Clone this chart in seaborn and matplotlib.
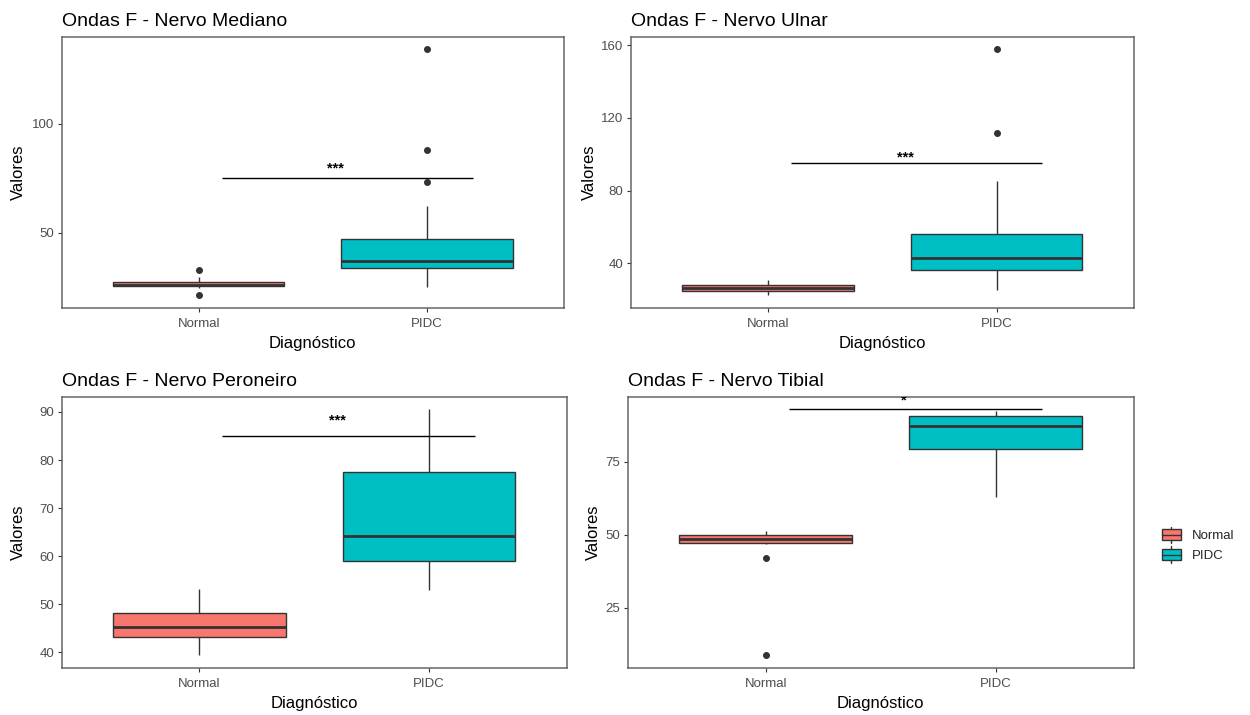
import numpy as np
import pandas as pd
import matplotlib
matplotlib.use("Agg")
import matplotlib.pyplot as plt
import seaborn as sns
from matplotlib.patches import Rectangle
from matplotlib.lines import Line2D
from matplotlib.legend_handler import HandlerBase

# ---------------- data ----------------
groups = ["Normal", "PIDC"]
group_colors = ["#F8766D", "#00BFC4"]

mediano_normal = [21.1, 24.3, 25.3, 25.7, 26.1, 26.8, 27.3, 29.6, 32.7]
mediano_pidc = [24.8, 29.5, 31.0, 32.6, 33.8, 34.5, 35.2, 36.0, 36.8, 39.5,
                42.0, 44.3, 46.8, 62.2, 73.2, 87.9, 134.4]

ulnar_normal = [22.4, 23.9, 24.8, 25.5, 26.3, 27.2, 28.1, 29.5, 30.9]
ulnar_pidc = [25.4, 29.0, 32.0, 34.5, 36.5, 38.0, 39.6, 41.2, 42.7, 45.0,
              48.5, 52.0, 56.3, 68.0, 85.5, 111.4, 157.8]

peroneiro_normal = [39.4, 41.5, 43.3, 44.4, 45.3, 46.9, 48.2, 50.6, 53.1]
peroneiro_pidc = [52.9, 56.0, 59.0, 61.5, 64.2, 70.8, 77.5, 84.0, 90.6]

tibial_normal = [8.6, 41.9, 46.8, 47.2, 47.6, 48.0, 48.4, 48.9, 49.4, 49.9,
                 50.4, 50.9, 51.3]
tibial_pidc = [63.0, 74.5, 79.2, 84.5, 87.3, 89.0, 90.5, 91.4, 92.2]

titles = ["Ondas F - Nervo Mediano", "Ondas F - Nervo Ulnar",
          "Ondas F - Nervo Peroneiro", "Ondas F - Nervo Tibial"]
yticks_list = [[50, 100], [40, 80, 120, 160], [40, 50, 60, 70, 80, 90], [25, 50, 75]]
sig_labels = ["***", "***", "***", "*"]
sig_bar_y = [75, 95, 85, 93]
sig_text_y = [80.1, 99.2, 88.5, 96.3]

data_pairs = [(mediano_normal, mediano_pidc), (ulnar_normal, ulnar_pidc),
              (peroneiro_normal, peroneiro_pidc), (tibial_normal, tibial_pidc)]

# ---------------- layout (pixels) ----------------
W, H = 1250, 715
panel_px = [  # left, top, right, bottom
    (61.7, 36.7, 564.0, 307.7),
    (631.0, 36.7, 1133.7, 307.7),
    (61.7, 396.7, 566.7, 667.7),
    (627.7, 396.7, 1133.7, 667.7),
]
ylabel_center_px = [18.7, 589.5, 18.7, 593.0]

sns.set_theme(style="white")
plt.rcParams["font.family"] = ["Liberation Sans", "DejaVu Sans"]

fig = plt.figure(figsize=(W / 100, H / 100), dpi=100)
fig.patch.set_facecolor("white")

for i in range(4):
    l, t, r, b = panel_px[i]
    ax = fig.add_axes([l / W, 1 - b / H, (r - l) / W, (b - t) / H])
    normal_vals, pidc_vals = data_pairs[i]
    df = pd.DataFrame({
        "Diagnóstico": ["Normal"] * len(normal_vals) + ["PIDC"] * len(pidc_vals),
        "Valores": list(normal_vals) + list(pidc_vals),
    })
    sns.boxplot(data=df, x="Diagnóstico", y="Valores", hue="Diagnóstico",
                order=groups, hue_order=groups, palette=group_colors,
                saturation=1, width=0.75, linecolor="#333333", linewidth=1.0,
                showcaps=False, whis=1.5, fliersize=4.0, legend=False,
                flierprops=dict(marker="o", markerfacecolor="#333333",
                                markeredgecolor="#333333"),
                medianprops=dict(linewidth=2.0, color="#333333"),
                ax=ax)
    allv = np.array(list(normal_vals) + list(pidc_vals))
    lo, hi = allv.min(), max(allv.max(), sig_bar_y[i])
    pad = 0.05 * (hi - lo)
    ax.set_ylim(lo - pad, hi + pad)
    ax.set_xlim(-0.6, 1.6)
    ax.set_yticks(yticks_list[i])
    # significance annotation
    ax.plot([0.1, 1.2], [sig_bar_y[i], sig_bar_y[i]], color="black", lw=1.0,
            solid_capstyle="butt")
    ax.annotate(sig_labels[i], xy=(0.6, sig_text_y[i]), xytext=(0, -1.0),
                textcoords="offset points", ha="center", va="center",
                fontsize=10.5, fontweight="bold", color="black",
                annotation_clip=False, clip_on=True)

    ax.set_title(titles[i], loc="left", fontsize=14, color="black", pad=8)
    ax.set_xlabel("Diagnóstico", fontsize=12, color="black", labelpad=4)
    ax.set_ylabel("Valores", fontsize=12, color="black")
    ax.yaxis.label.set_verticalalignment("center")
    ax.yaxis.set_label_coords((ylabel_center_px[i] - l) / (r - l), 0.5)
    ax.tick_params(axis="x", pad=4.5)
    ax.tick_params(axis="y", pad=2.5)
    ax.tick_params(axis="both", which="both", length=2.9, width=0.8,
                   color="#333333", labelcolor="#4D4D4D", labelsize=9.5,
                   left=True, bottom=True)
    for s in ax.spines.values():
        s.set_visible(True)
        s.set_color("#666666")
        s.set_linewidth(1.1)
    ax.grid(False)
    ax.set_facecolor("white")


# ---------------- legend ----------------
class BoxKeyHandler(HandlerBase):
    def __init__(self, color):
        super().__init__()
        self.color = color

    def create_artists(self, legend, orig_handle, xdescent, ydescent, width,
                       height, fontsize, trans):
        x0, y0 = -xdescent, -ydescent
        cx = x0 + width / 2
        rect = Rectangle((x0, y0 + 0.16 * height), width, 0.68 * height,
                         facecolor=self.color, edgecolor="#333333", lw=1.0,
                         transform=trans)
        med = Line2D([x0, x0 + width], [y0 + 0.5 * height] * 2,
                     color="#333333", lw=1.0, transform=trans)
        w1 = Line2D([cx, cx], [y0, y0 + 0.16 * height], color="#333333",
                    lw=1.0, transform=trans)
        w2 = Line2D([cx, cx], [y0 + 0.84 * height, y0 + height],
                    color="#333333", lw=1.0, transform=trans)
        return [rect, med, w1, w2]


handles = [Rectangle((0, 0), 1, 1) for _ in groups]
handler_map = {h: BoxKeyHandler(c) for h, c in zip(handles, group_colors)}
fig.legend(handles, groups, handler_map=handler_map, loc="center left",
           bbox_to_anchor=(1161.7 / W, 1 - 544.7 / H), frameon=False,
           fontsize=9.5, handlelength=1.44, handleheight=1.56,
           labelspacing=0.24, handletextpad=0.83, borderpad=0,
           borderaxespad=0)

fig.savefig("out.png", dpi=100, facecolor="white")
